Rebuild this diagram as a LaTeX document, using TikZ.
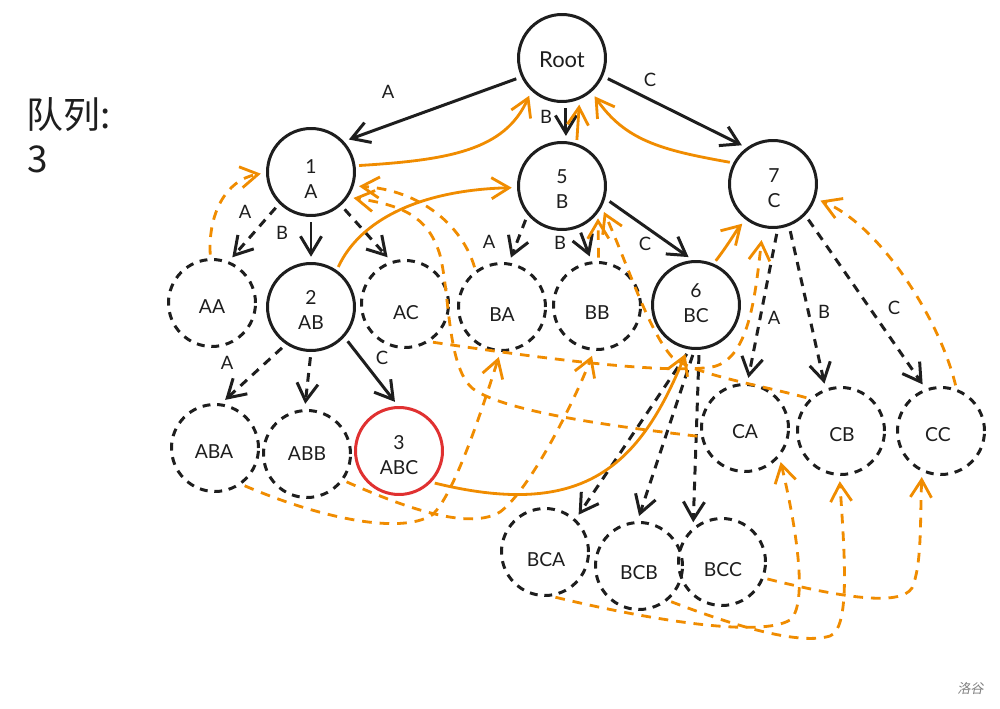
\documentclass[tikz,border=0pt]{standalone}
\usepackage{fontspec}
\setmainfont{Lato}
\newfontfamily\cjk{Noto Sans CJK SC}
\newfontfamily\cjkit[FakeSlant=0.2]{Noto Sans CJK SC}
\usetikzlibrary{arrows.meta}
\definecolor{ink}{HTML}{1E1E1E}
\definecolor{fail}{HTML}{F08C00}
\definecolor{hit}{HTML}{E03131}
\tikzset{
 px/.style={x=0.02cm,y=-0.02cm},
 st/.style={circle, draw=ink, line width=1.7pt, minimum size=1.74cm, inner sep=0pt},
 dn/.style={st, dash pattern=on 4.5pt off 3.8pt},
 rn/.style={st, draw=hit},
 nt/.style={align=center, inner sep=0pt, font=\fontsize{11}{14.2}\selectfont, text=ink},
 tipa/.style={-{Straight Barb[length=10pt,width=12pt]}},
 edge/.style={draw=ink, line width=1.7pt, tipa, shorten <=3pt, shorten >=3pt},
 dedge/.style={edge, dash pattern=on 5pt off 4pt},
 fl/.style={draw=fail, line width=1.6pt, tipa, shorten <=2pt, shorten >=3pt},
 dfl/.style={fl, dash pattern=on 5.5pt off 4.5pt},
 lab/.style={font=\fontsize{10.5}{12}\selectfont, text=ink, inner sep=0pt},
}
\begin{document}
\begin{tikzpicture}[px]
\useasboundingbox (0,0) rectangle (1000,709);
\fill[white] (0,0) rectangle (1000,709);

% circles
\node[st] (root) at (562,58) {};
\node[st] (n1) at (311,172) {};
\node[st] (n5) at (562,186) {};
\node[st] (n7) at (773,184) {};
\node[dn] (AA) at (212,303) {};
\node[st] (n2) at (311,307) {};
\node[dn] (AC) at (405,304) {};
\node[dn] (BA) at (502,307) {};
\node[dn] (BB) at (597,306) {};
\node[st] (n6) at (696,305) {};
\node[dn] (CA) at (745,428) {};
\node[dn] (CB) at (841,431) {};
\node[dn] (CC) at (941,431) {};
\node[dn] (ABA) at (215,448) {};
\node[dn] (ABB) at (307,454) {};
\node[rn] (n3) at (399,451) {};
\node[dn] (BCA) at (545,552) {};
\node[dn] (BCB) at (639,566) {};
\node[dn] (BCC) at (722,562) {};

% texts in circles
\node[nt, font=\fontsize{12.5}{14}\selectfont] (roott) at (562,60) {Root};
\node[nt] (n1t) at (311,179) {1\\A};
\node[nt] (n5t) at (562,189) {5\\B};
\node[nt] (n7t) at (774,188) {7\\C};
\node[nt] (AAt) at (212,307) {AA};
\node[nt] (n2t) at (311,310) {2\\AB};
\node[nt] (ACt) at (406,313) {AC};
\node[nt] (BAt) at (502,315) {BA};
\node[nt] (BBt) at (597,313) {BB};
\node[nt] (n6t) at (696,303) {6\\BC};
\node[nt] (CAt) at (745,432) {CA};
\node[nt] (CBt) at (842,435) {CB};
\node[nt] (CCt) at (938,435) {CC};
\node[nt] (ABAt) at (214,452) {ABA};
\node[nt] (ABBt) at (307,454) {ABB};
\node[nt] (n3t) at (399,455) {3\\ABC};
\node[nt] (BCAt) at (546,560) {BCA};
\node[nt] (BCBt) at (639,573) {BCB};
\node[nt] (BCCt) at (723,570) {BCC};

% queue text
\node[anchor=base west, inner sep=0pt, font=\cjk\fontsize{21}{24}\selectfont, text=ink] (q1) at (26,129) {队列:};
\node[anchor=base west, inner sep=0pt, font=\cjk\fontsize{21}{24}\selectfont, text=ink] (q2) at (27,173) {3};
\node[anchor=base east, inner sep=0pt, font=\cjkit\fontsize{7.5}{9}\selectfont, text=gray] (wm) at (984,693) {洛谷};

% trie edges
\draw[edge] (root.205) -- (n1.43);
\draw[edge] (root.275) -- (n5.85);
\draw[edge] (root.336) -- (n7.126);
\draw[dedge] (n1.225) -- (AA.68);
\draw[edge] (n1.270) -- (n2.90);
\draw[dedge] (n1.312) -- (AC.108);
\draw[dedge] (n2.236) -- (ABA.82);
\draw[dedge] (n2.270) -- (ABB.93);
\draw[edge] (n2.318) -- (n3.91);
\draw[dedge] (n5.220) -- (BA.81);
\draw[edge] (n5.292) -- (BB.97);
\draw[edge] (n5.344) -- (n6.94);
\draw[dedge] (n7.276) -- (CA.87);
\draw[dedge] (n7.291) -- (CB.110);
\draw[dedge] (n7.316) -- (CC.110);
\draw[dedge] (n6.262) -- (BCA.47);
\draw[dedge] (n6.268) -- (BCB.92);
\draw[dedge] (n6.274) -- (BCC.130);

% edge labels
\node[lab] (l1) at (388,92) {A};
\node[lab] (l2) at (546,117) {B};
\node[lab] (l3) at (650,80) {C};
\node[lab] (l4) at (245,212) {A};
\node[lab] (l5) at (282,233) {B};
\node[lab] (l6) at (227,363) {A};
\node[lab] (l7) at (382,358) {C};
\node[lab] (l8) at (489,242) {A};
\node[lab] (l9) at (560,243) {B};
\node[lab] (l10) at (645,244) {C};
\node[lab] (l11) at (774,318) {A};
\node[lab] (l12) at (824,312) {B};
\node[lab] (l13) at (894,308) {C};

% fail links (solid)
\draw[fl] (n1.8) .. controls (450,160) and (505,150) .. (root.227);
\draw[fl] (n2.55) .. controls (360,220) and (420,190) .. (n5.182);
\draw[fl] (n5.71) -- (root.293);
\draw[fl] (n7.152) .. controls (660,150) and (625,140) .. (root.311);
\draw[fl] (n6.67) .. controls (728,245) and (738,228) .. (n7.233);
\draw[fl] (n3.316) .. controls (585,520) and (640,465) .. (n6.259);

% fail links (dashed)
\draw[dfl] (AA.92) .. controls (208,215) and (225,180) .. (n1.181);
\draw[dfl] (BA.126) .. controls (462,225) and (420,190) .. (n1.342);
\draw[dfl] (CA.191) .. controls (600,425) and (500,410) .. (472,388)
  .. controls (447,365) and (450,295) .. (440,255)
  .. controls (428,215) and (400,205) .. (n1.326);
\draw[dfl] (BB.88) -- (n5.323);
\draw[dfl] (CB.134) .. controls (760,385) and (695,375) .. (672,357)
  .. controls (648,330) and (628,265) .. (n5.332);
\draw[dfl, shorten >=7pt] (AC.303) .. controls (520,355) and (660,375) .. (712,367)
  .. controls (748,360) and (755,300) .. (n7.257);
\draw[dfl] (CC.70) .. controls (940,320) and (880,225) .. (n7.341);
\draw[dfl] (ABA.306) .. controls (320,518) and (400,535) .. (432,515)
  .. controls (455,495) and (485,400) .. (BA.268);
\draw[dfl] (ABB.324) .. controls (410,510) and (470,530) .. (500,512)
  .. controls (530,490) and (575,400) .. (BB.266);
\draw[dfl] (BCA.279) .. controls (650,620) and (760,638) .. (790,620)
  .. controls (808,605) and (797,530) .. (CA.320);
\draw[dfl] (BCB.310) .. controls (740,628) and (800,645) .. (830,636)
  .. controls (850,628) and (845,560) .. (CB.268);
\draw[dfl] (BCC.339) .. controls (840,597) and (900,607) .. (912,588)
  .. controls (922,565) and (920,520) .. (CC.245);
\end{tikzpicture}
\end{document}
